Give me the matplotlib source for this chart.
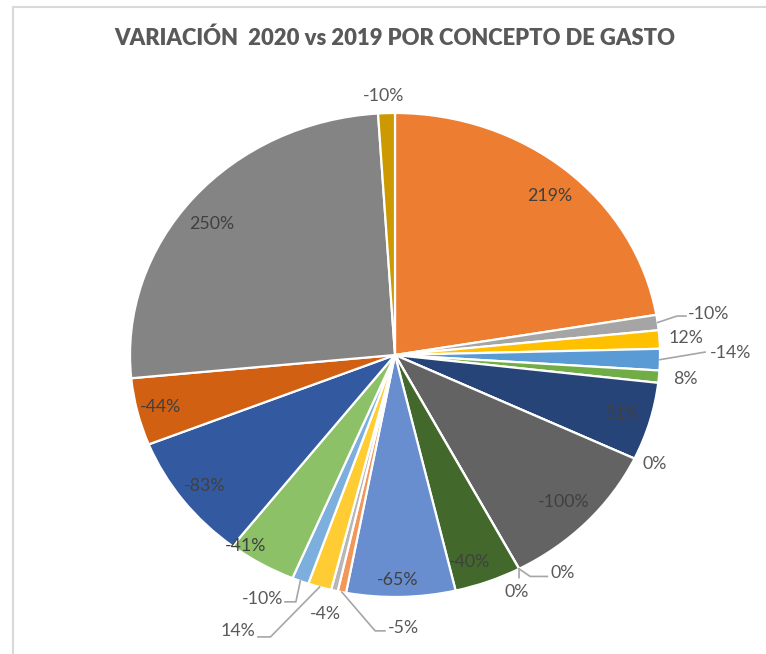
import numpy as np
import matplotlib
matplotlib.use("Agg")
import matplotlib.pyplot as plt

# Variación 2020 vs 2019 por concepto de gasto (clockwise from 12 o'clock)
variacion = [219, -10, 12, -14, 8, 51, 0, -100, 0, 0, -40, -65, -5, -4, 14, -10, -41, -83, -44, 250, -10]
colores = ["#ED7D31", "#A5A5A5", "#FFC000", "#5B9BD5", "#70AD47", "#264478", "#9E480E",
           "#636363", "#997300", "#255E91", "#43682B", "#698ED0", "#F1975A", "#B7B7B7",
           "#FFCD33", "#7CAFDD", "#8CC168", "#335AA1", "#D26012", "#848484", "#CC9A00"]
titulo = "VARIACIÓN  2020 vs 2019 POR CONCEPTO DE GASTO"

# label radius and small angular nudge (degrees) per slice; None -> drawn with a leader line
label_r = [0.88, None, 1.10, None, 1.10, 0.89, 1.08, 0.88, None, None, 0.90, 0.93,
           None, 1.10, None, None, 0.97, 0.90, 0.91, 0.88, 1.07]
label_shift = [1.3, 0, 0, 0, 0, 0, -0.6, 0, 0, 0, 2.4, 0.6, 0, 0.5, 0, 0, 5.3, 0, 0, -2.3, -0.4]

# leader lines: slice index -> (elbow x, elbow y, line end x, text x, text y, ha)
leaders = {
    1: (1.064, 0.161, 1.098, 1.106, 0.169, "left"),
    3: (1.17, 0.012, 1.17, 1.19, 0.010, "left"),
    8: (0.51, -0.915, 0.575, 0.585, -0.90, "left"),
    9: (0.468, -0.92, 0.468, 0.46, -0.98, "center"),
    12: (-0.075, -1.14, -0.038, -0.026, -1.13, "left"),
    14: (-0.47, -1.165, -0.517, -0.528, -1.14, "right"),
    15: (-0.374, -1.02, -0.415, -0.423, -1.008, "right"),
}

plt.rcParams["font.family"] = ["Lato", "DejaVu Sans"]

fig = plt.figure(figsize=(7.66, 6.54), dpi=100)
W, H = 766, 654
cx, cy, rx, ry = 395, 355, 265, 242
ax = fig.add_axes([(cx - rx) / W, (H - cy - ry) / H, 2 * rx / W, 2 * ry / H])

tamanos = np.abs(variacion)
wedges, _ = ax.pie(tamanos, colors=colores, startangle=90, counterclock=False,
                   wedgeprops=dict(edgecolor="white", linewidth=1.6))
ax.set_aspect("auto")
ax.set_xlim(-1, 1)
ax.set_ylim(-1, 1)
ax.axis("off")

acum = np.cumsum(tamanos) - tamanos / 2.0
medio = acum / tamanos.sum() * 360.0  # degrees clockwise from top

for i, v in enumerate(variacion):
    txt = f"{v}%"
    ang = np.radians(medio[i] + label_shift[i])
    if label_r[i] is not None:
        r = label_r[i]
        color = "#404040" if r < 1 else "#595959"
        ax.text(r * np.sin(ang), r * np.cos(ang), txt, ha="center", va="center",
                fontsize=12.8, color=color, clip_on=False)
    else:
        ex, ey, lx, tx, ty, ha = leaders[i]
        x0, y0 = np.sin(ang), np.cos(ang)
        ax.plot([x0, ex, lx], [y0, ey, ey], color="#A6A6A6", lw=1.2, clip_on=False)
        ax.text(tx, ty, txt, ha=ha, va="center", fontsize=12.8, color="#595959", clip_on=False)

fig.text(cx / W, 1 - 38 / H, titulo, ha="center", va="center", fontsize=15.8,
         fontweight="heavy", color="#595959")

# chart area border (top and left edges)
fig.add_artist(plt.Line2D([13 / W, 1], [1 - 7 / H, 1 - 7 / H], color="#D9D9D9", lw=1.5))
fig.add_artist(plt.Line2D([13 / W, 13 / W], [0, 1 - 7 / H], color="#D9D9D9", lw=1.5))

fig.savefig("out.png", dpi=100)
